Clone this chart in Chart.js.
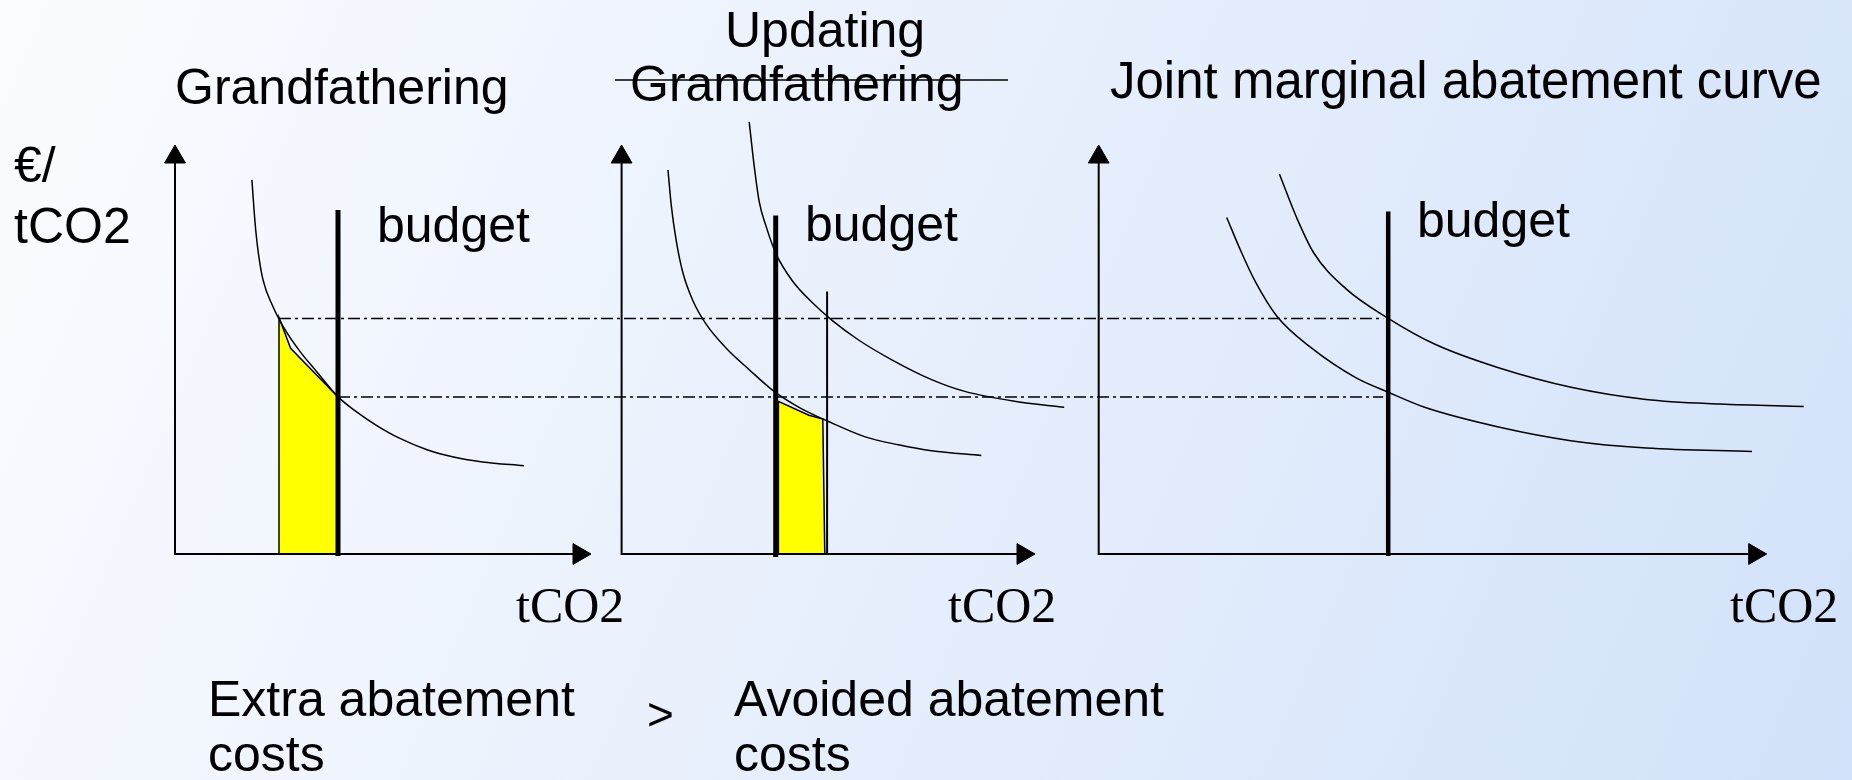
<!DOCTYPE html>
<html>
<head>
<meta charset="utf-8">
<script src="https://cdn.jsdelivr.net/npm/chart.js@4"></script>
<style>
  html, body { margin: 0; padding: 0; background: #eef3fd; }
  canvas { display: block; }
</style>
</head>
<body>
<canvas id="chart" width="1852" height="780"></canvas>
<script>
// q = tCO2 measured from the axis corner, c = €/tCO2 measured from the axis corner
// Grandfathering panel
const gfQ = [76.9, 80.0, 82.8, 87.9, 97.8, 109.7, 125.5, 141.3, 163.1, 180.9, 200.6, 224.4, 252.0, 279.7, 307.4, 348.9];
const gfC = [374.1, 332.0, 305.2, 274.6, 247.8, 224.9, 201.9, 182.8, 157.1, 142.6, 129.2, 115.8, 104.3, 96.7, 92.1, 88.3];
const gfBudget = 163;
const gfAreaQ = [104, 104, 115.6, 163, 163];
const gfAreaC = [0, 236.5, 205.7, 157, 0];

// Updating grandfathering panel
const upLowQ = [46.4, 49.7, 54.7, 61.3, 71.2, 84.5, 104.4, 127.6, 152.5, 177.4, 210.5, 243.7, 276.8, 310.0, 359.7];
const upLowC = [384.0, 348.4, 312.8, 281.2, 253.5, 229.8, 206.0, 184.3, 162.6, 146.7, 130.9, 117.1, 109.2, 103.2, 98.5];
const upHighQ = [127.6, 132.6, 137.6, 144.2, 154.1, 170.7, 190.6, 210.5, 237.0, 270.2, 310.0, 343.2, 392.9, 442.6];
const upHighC = [432.2, 387.9, 352.3, 328.6, 300.9, 273.3, 251.5, 233.7, 214.0, 194.2, 174.4, 162.6, 152.7, 146.7];
const upBudget = 154.1;
const upShifted = 205.5;
const upAreaQ = [156.8, 156.8, 187.3, 201.2, 203.2];
const upAreaC = [0, 152.7, 138.8, 134.9, 0];

// Joint marginal abatement curve panel
const jLowQ = [128.0, 141.3, 156.1, 178.2, 212.7, 257.0, 289.5, 325.9, 399.8, 473.6, 547.4, 653.3];
const jLowC = [336.5, 304.9, 273.3, 237.7, 206.1, 176.4, 161.8, 146.7, 127.0, 113.1, 106.0, 102.5];
const jHighQ = [180.7, 197.9, 215.1, 247.1, 289.5, 335.8, 399.8, 473.6, 547.3, 621.3, 705.0];
const jHighC = [380.0, 336.5, 301.0, 265.4, 235.7, 210.0, 186.3, 166.5, 154.6, 150.0, 147.5];
const jBudget = 289.5;

// price levels carried across the panels (dash-dot), and where they start in panel 1
const priceLevels = [235.6, 157];
const priceStartQ = [104, 163];

// ---- layout ----
const W = 1852, H = 780;
const BASE = 554;                       // axis corner, px from top
const PANEL_X = [175, 621.6, 1098.7];   // axis corner, px from left
const AXIS_TOP = 409;
const AXIS_LEN = [416, 413.4, 668];
const BUDGET_TOP = [344, 338.5, 342.5];
const SHIFT_TOP = 262.6;
const ARROW = 12;

function pts(p, qs, cs) {
  return qs.map((q, i) => ({ x: PANEL_X[p] + q, y: H - BASE + cs[i] }));
}
function seg(p, q0, c0, q1, c1) {
  return [{ x: PANEL_X[p] + q0, y: H - BASE + c0 }, { x: PANEL_X[p] + q1, y: H - BASE + c1 }];
}
function line(data, width, extra) {
  return Object.assign({
    data: data, showLine: true, borderColor: '#000', borderWidth: width,
    pointRadius: 0, fill: false, clip: false, tension: 0, order: 1
  }, extra || {});
}
const curve = { cubicInterpolationMode: 'monotone' };

const datasets = [];
// shaded cost areas
datasets.push(line(pts(0, gfAreaQ, gfAreaC), 1.5, { fill: { value: H - BASE }, backgroundColor: '#ffff00', order: 9 }));
datasets.push(line(pts(1, upAreaQ, upAreaC), 1.5, { fill: { value: H - BASE }, backgroundColor: '#ffff00', order: 9 }));

// axes
const arrowPts = [], arrowRot = [];
for (let p = 0; p < 3; p++) {
  datasets.push(line([
    { x: PANEL_X[p], y: H - BASE + AXIS_TOP - ARROW },
    { x: PANEL_X[p], y: H - BASE },
    { x: PANEL_X[p] + AXIS_LEN[p] - ARROW, y: H - BASE }
  ], 2));
  arrowPts.push({ x: PANEL_X[p], y: H - BASE + AXIS_TOP - ARROW });
  arrowRot.push(0);
  arrowPts.push({ x: PANEL_X[p] + AXIS_LEN[p] - ARROW, y: H - BASE });
  arrowRot.push(90);
}
datasets.push({
  data: arrowPts, showLine: false, pointStyle: 'triangle', pointRadius: ARROW,
  pointRotation: arrowRot, backgroundColor: '#000', borderColor: '#000', borderWidth: 1, clip: false
});

// dash-dot price levels
priceLevels.forEach((lvl, i) => {
  datasets.push(line([
    { x: PANEL_X[0] + priceStartQ[i], y: H - BASE + lvl },
    { x: PANEL_X[2] + jBudget - 5, y: H - BASE + lvl }
  ], 1.5, { borderDash: [12, 4, 3, 4] }));
});

// curves
datasets.push(line(pts(0, gfQ, gfC), 1.5, curve));
datasets.push(line(pts(1, upLowQ, upLowC), 1.5, curve));
datasets.push(line(pts(1, upHighQ, upHighC), 1.5, curve));
datasets.push(line(pts(2, jLowQ, jLowC), 1.5, curve));
datasets.push(line(pts(2, jHighQ, jHighC), 1.5, curve));

// budget lines
datasets.push(line(seg(0, gfBudget, BUDGET_TOP[0], gfBudget, -2), 5));
datasets.push(line(seg(1, upBudget, BUDGET_TOP[1], upBudget, -3), 5));
datasets.push(line(seg(2, jBudget, BUDGET_TOP[2], jBudget, -2), 4.5));
datasets.push(line(seg(1, upShifted, SHIFT_TOP, upShifted, 0), 2));

const SANS = '"Liberation Sans", Arial, sans-serif';
const SERIF = '"Liberation Serif", "Times New Roman", serif';
const labels = [
  { t: 'Grandfathering', x: 175, y: 104, f: '50px ' + SANS },
  { t: 'Updating', x: 725, y: 47, f: '50px ' + SANS },
  { t: 'Grandfathering', x: 630, y: 101, f: '50px ' + SANS },
  { t: 'Joint marginal abatement curve', x: 1110, y: 98, f: '51px ' + SANS },
  { t: '€/', x: 14, y: 182, f: '50px ' + SANS },
  { t: 'tCO2', x: 14, y: 243, f: '50px ' + SANS },
  { t: 'budget', x: 377, y: 242, f: '50px ' + SANS },
  { t: 'budget', x: 805, y: 241, f: '50px ' + SANS },
  { t: 'budget', x: 1417, y: 237, f: '50px ' + SANS },
  { t: 'tCO2', x: 516, y: 622, f: '50px ' + SERIF },
  { t: 'tCO2', x: 948, y: 622, f: '50px ' + SERIF },
  { t: 'tCO2', x: 1730, y: 622, f: '50px ' + SERIF },
  { t: 'Extra abatement', x: 208, y: 716, f: '50px ' + SANS },
  { t: 'costs', x: 208, y: 771, f: '50px ' + SANS },
  { t: '>', x: 647, y: 730, f: '46px ' + SANS },
  { t: 'Avoided abatement', x: 734, y: 716, f: '50px ' + SANS },
  { t: 'costs', x: 734, y: 771, f: '50px ' + SANS }
];

const slide = {
  id: 'slide',
  beforeDraw(chart) {
    const ctx = chart.ctx;
    const g = ctx.createLinearGradient(0, 0, W, H);
    g.addColorStop(0, '#fbfcff');
    g.addColorStop(0.5, '#e7effc');
    g.addColorStop(1, '#d2e2fa');
    ctx.save();
    ctx.fillStyle = g;
    ctx.fillRect(0, 0, W, H);
    ctx.restore();
  },
  afterDraw(chart) {
    const ctx = chart.ctx;
    ctx.save();
    ctx.fillStyle = '#000';
    ctx.textBaseline = 'alphabetic';
    labels.forEach(l => {
      ctx.font = l.f;
      ctx.fillText(l.t, l.x, l.y);
    });
    // struck-through "Grandfathering"
    ctx.strokeStyle = '#000';
    ctx.lineWidth = 1.5;
    ctx.beginPath();
    ctx.moveTo(615, 80);
    ctx.lineTo(1008, 80);
    ctx.stroke();
    ctx.restore();
  }
};

new Chart(document.getElementById('chart').getContext('2d'), {
  type: 'scatter',
  data: { datasets: datasets },
  options: {
    responsive: false,
    animation: false,
    events: [],
    layout: { padding: 0, autoPadding: false },
    scales: {
      x: { type: 'linear', min: 0, max: W, display: false },
      y: { type: 'linear', min: 0, max: H, display: false }
    },
    plugins: { legend: { display: false }, tooltip: { enabled: false } }
  },
  plugins: [slide]
});
</script>
</body>
</html>
